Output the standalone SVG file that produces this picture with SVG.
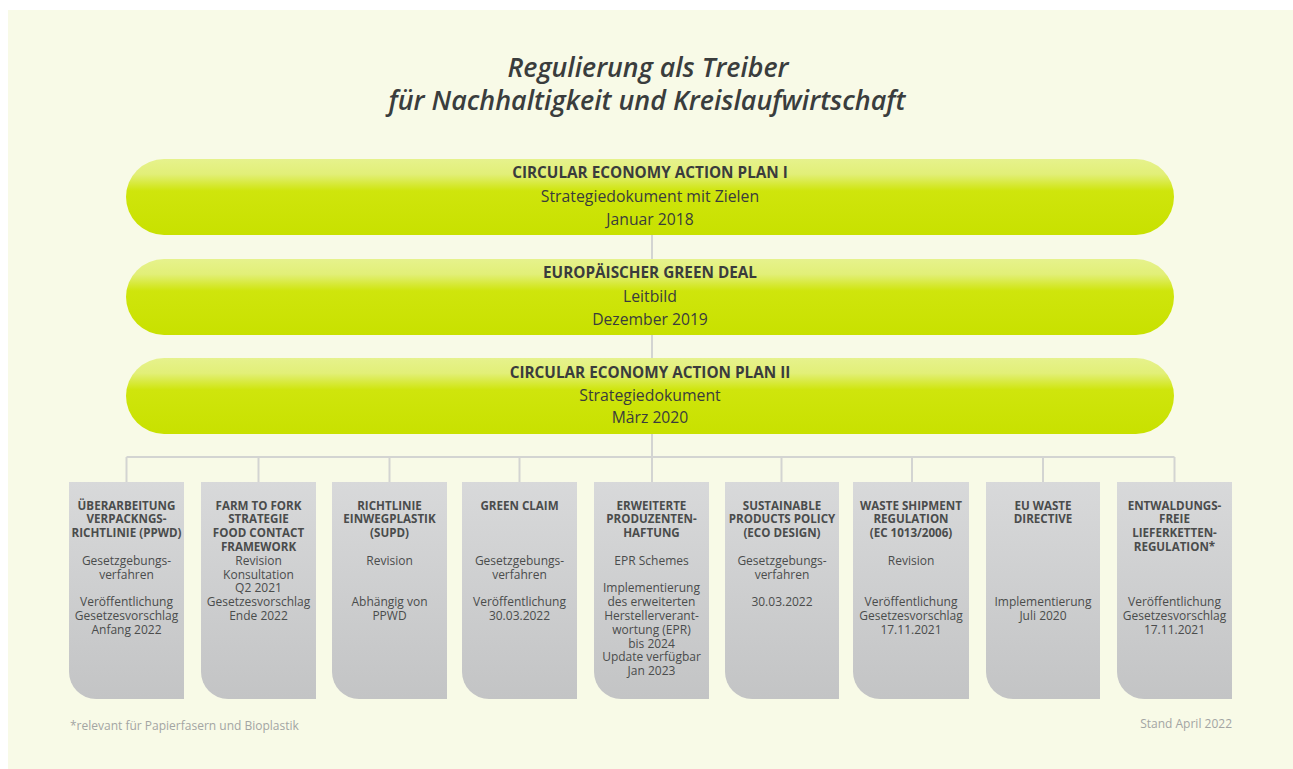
<svg xmlns="http://www.w3.org/2000/svg" width="1293" height="769" viewBox="0 0 1293 769">
  <defs>
    <linearGradient id="pillFill" x1="0" y1="0" x2="0" y2="1">
      <stop offset="0" stop-color="#e6f28c"/>
      <stop offset="0.2" stop-color="#e2ef78"/>
      <stop offset="0.42" stop-color="#cfe50c"/>
      <stop offset="1" stop-color="#c8e100"/>
    </linearGradient>
    <linearGradient id="boxFill" x1="0" y1="0" x2="0" y2="1">
      <stop offset="0" stop-color="#d8d9da"/>
      <stop offset="1" stop-color="#c3c4c5"/>
    </linearGradient>
    <style>
      .title { font-family: "Open Sans", "Liberation Sans", sans-serif; font-style: italic; font-weight: 600; font-size: 27px; fill: #3a3d3d; text-anchor: middle; }
      .pill { fill: url(#pillFill); }
      .ph { font-family: "Open Sans", "Liberation Sans", sans-serif; font-weight: 700; font-size: 15.3px; fill: #3a3c3c; text-anchor: middle; }
      .pt { font-family: "Open Sans", "Liberation Sans", sans-serif; font-weight: 400; font-size: 15.8px; fill: #3a3c3c; text-anchor: middle; }
      .pd { font-family: "Open Sans", "Liberation Sans", sans-serif; font-weight: 500; font-size: 15.7px; fill: #3a3c3c; text-anchor: middle; }
      .box { fill: url(#boxFill); }
      .bh { font-family: "Open Sans", "Liberation Sans", sans-serif; font-weight: 700; font-size: 11.6px; fill: #4a4c4c; text-anchor: middle; }
      .bt { font-family: "Open Sans", "Liberation Sans", sans-serif; font-weight: 400; font-size: 12px; fill: #4a4c4c; text-anchor: middle; }
      .conn { stroke: #d3d4d2; stroke-width: 2; fill: none; }
      .foot { font-family: "Open Sans", "Liberation Sans", sans-serif; font-size: 12px; fill: #a3a5a3; }
    </style>
  </defs>

  <!-- page -->
  <rect x="0" y="0" width="1293" height="769" fill="#ffffff"/>
  <rect x="8" y="10" width="1285" height="759" fill="#f8fae7"/>

  <!-- heading -->
  <g id="title">
    <text class="title" x="648" y="77" textLength="281" lengthAdjust="spacingAndGlyphs">Regulierung als Treiber</text>
    <text class="title" x="647" y="110" textLength="517" lengthAdjust="spacingAndGlyphs">für Nachhaltigkeit und Kreislaufwirtschaft</text>
  </g>

  <!-- connectors -->
  <g id="connectors">
    <path class="conn" d="M652 235 V259 M652 335 V358 M652 434 V457"/>
    <path class="conn" d="M126.5 457 H1174.5"/>
    <path class="conn" d="M126.5 457 V482 M258.5 457 V482 M389.5 457 V482 M519.5 457 V482 M652 457 V482 M781.5 457 V482 M912 457 V482 M1043 457 V482 M1174.5 457 V482"/>
  </g>

  <!-- strategy level -->
  <g id="ceap1">
    <rect class="pill" x="126" y="159" width="1048" height="76" rx="38"/>
    <text class="ph" x="650" y="178">CIRCULAR ECONOMY ACTION PLAN I</text>
    <text class="pt" x="650" y="201.5">Strategiedokument mit Zielen</text>
    <text class="pd" x="650" y="224.5">Januar 2018</text>
  </g>
  <g id="green-deal">
    <rect class="pill" x="126" y="259" width="1048" height="76" rx="38"/>
    <text class="ph" x="650" y="278.3">EUROPÄISCHER GREEN DEAL</text>
    <text class="pt" x="650" y="301.7">Leitbild</text>
    <text class="pd" x="650" y="325">Dezember 2019</text>
  </g>
  <g id="ceap2">
    <rect class="pill" x="126" y="358" width="1048" height="76" rx="38"/>
    <text class="ph" x="650" y="377.7">CIRCULAR ECONOMY ACTION PLAN II</text>
    <text class="pt" x="650" y="400.7">Strategiedokument</text>
    <text class="pd" x="650" y="423.3">März 2020</text>
  </g>

  <!-- regulation level -->
  <g id="ppwd">
    <path class="box" d="M69 482 H184 V699 H96 A27 27 0 0 1 69 672 Z"/>
    <text class="bh" x="126.5" y="509.5">ÜBERARBEITUNG</text>
    <text class="bh" x="126.5" y="523.3">VERPACKNGS-</text>
    <text class="bh" x="126.5" y="537.1">RICHTLINIE (PPWD)</text>
    <text class="bt" x="126.5" y="564.7">Gesetzgebungs-</text>
    <text class="bt" x="126.5" y="578.5">verfahren</text>
    <text class="bt" x="126.5" y="606.1">Veröffentlichung</text>
    <text class="bt" x="126.5" y="619.9">Gesetzesvorschlag</text>
    <text class="bt" x="126.5" y="633.7">Anfang 2022</text>
  </g>
  <g id="farm-to-fork">
    <path class="box" d="M201 482 H316 V699 H228 A27 27 0 0 1 201 672 Z"/>
    <text class="bh" x="258.5" y="509.5">FARM TO FORK</text>
    <text class="bh" x="258.5" y="523.3">STRATEGIE</text>
    <text class="bh" x="258.5" y="537.1">FOOD CONTACT</text>
    <text class="bh" x="258.5" y="550.9">FRAMEWORK</text>
    <text class="bt" x="258.5" y="564.7">Revision</text>
    <text class="bt" x="258.5" y="578.5">Konsultation</text>
    <text class="bt" x="258.5" y="592.3">Q2 2021</text>
    <text class="bt" x="258.5" y="606.1">Gesetzesvorschlag</text>
    <text class="bt" x="258.5" y="619.9">Ende 2022</text>
  </g>
  <g id="supd">
    <path class="box" d="M332 482 H447 V699 H359 A27 27 0 0 1 332 672 Z"/>
    <text class="bh" x="389.5" y="509.5">RICHTLINIE</text>
    <text class="bh" x="389.5" y="523.3">EINWEGPLASTIK</text>
    <text class="bh" x="389.5" y="537.1">(SUPD)</text>
    <text class="bt" x="389.5" y="564.7">Revision</text>
    <text class="bt" x="389.5" y="606.1">Abhängig von</text>
    <text class="bt" x="389.5" y="619.9">PPWD</text>
  </g>
  <g id="green-claim">
    <path class="box" d="M462 482 H577 V699 H489 A27 27 0 0 1 462 672 Z"/>
    <text class="bh" x="519.5" y="509.5">GREEN CLAIM</text>
    <text class="bt" x="519.5" y="564.7">Gesetzgebungs-</text>
    <text class="bt" x="519.5" y="578.5">verfahren</text>
    <text class="bt" x="519.5" y="606.1">Veröffentlichung</text>
    <text class="bt" x="519.5" y="619.9">30.03.2022</text>
  </g>
  <g id="epr">
    <path class="box" d="M594 482 H709 V699 H621 A27 27 0 0 1 594 672 Z"/>
    <text class="bh" x="651.5" y="509.5">ERWEITERTE</text>
    <text class="bh" x="651.5" y="523.3">PRODUZENTEN-</text>
    <text class="bh" x="651.5" y="537.1">HAFTUNG</text>
    <text class="bt" x="651.5" y="564.7">EPR Schemes</text>
    <text class="bt" x="651.5" y="592.3">Implementierung</text>
    <text class="bt" x="651.5" y="606.1">des erweiterten</text>
    <text class="bt" x="651.5" y="619.9">Herstellerverant-</text>
    <text class="bt" x="651.5" y="633.7">wortung (EPR)</text>
    <text class="bt" x="651.5" y="647.5">bis 2024</text>
    <text class="bt" x="651.5" y="661.3">Update verfügbar</text>
    <text class="bt" x="651.5" y="675.1">Jan 2023</text>
  </g>
  <g id="sustainable-products">
    <path class="box" d="M725 482 H839 V699 H752 A27 27 0 0 1 725 672 Z"/>
    <text class="bh" x="782" y="509.5">SUSTAINABLE</text>
    <text class="bh" x="782" y="523.3">PRODUCTS POLICY</text>
    <text class="bh" x="782" y="537.1">(ECO DESIGN)</text>
    <text class="bt" x="782" y="564.7">Gesetzgebungs-</text>
    <text class="bt" x="782" y="578.5">verfahren</text>
    <text class="bt" x="782" y="606.1">30.03.2022</text>
  </g>
  <g id="waste-shipment">
    <path class="box" d="M853 482 H969 V699 H880 A27 27 0 0 1 853 672 Z"/>
    <text class="bh" x="911" y="509.5">WASTE SHIPMENT</text>
    <text class="bh" x="911" y="523.3">REGULATION</text>
    <text class="bh" x="911" y="537.1">(EC 1013/2006)</text>
    <text class="bt" x="911" y="564.7">Revision</text>
    <text class="bt" x="911" y="606.1">Veröffentlichung</text>
    <text class="bt" x="911" y="619.9">Gesetzesvorschlag</text>
    <text class="bt" x="911" y="633.7">17.11.2021</text>
  </g>
  <g id="waste-directive">
    <path class="box" d="M986 482 H1100 V699 H1013 A27 27 0 0 1 986 672 Z"/>
    <text class="bh" x="1043" y="509.5">EU WASTE</text>
    <text class="bh" x="1043" y="523.3">DIRECTIVE</text>
    <text class="bt" x="1043" y="606.1">Implementierung</text>
    <text class="bt" x="1043" y="619.9">Juli 2020</text>
  </g>
  <g id="deforestation">
    <path class="box" d="M1117 482 H1232 V699 H1144 A27 27 0 0 1 1117 672 Z"/>
    <text class="bh" x="1174.5" y="509.5">ENTWALDUNGS-</text>
    <text class="bh" x="1174.5" y="523.3">FREIE</text>
    <text class="bh" x="1174.5" y="537.1">LIEFERKETTEN-</text>
    <text class="bh" x="1174.5" y="550.9">REGULATION*</text>
    <text class="bt" x="1174.5" y="606.1">Veröffentlichung</text>
    <text class="bt" x="1174.5" y="619.9">Gesetzesvorschlag</text>
    <text class="bt" x="1174.5" y="633.7">17.11.2021</text>
  </g>

  <!-- footnotes -->
  <g id="footer">
    <text class="foot" x="70" y="729.5">*relevant für Papierfasern und Bioplastik</text>
    <text class="foot" x="1232" y="728" text-anchor="end">Stand April 2022</text>
  </g>
</svg>
